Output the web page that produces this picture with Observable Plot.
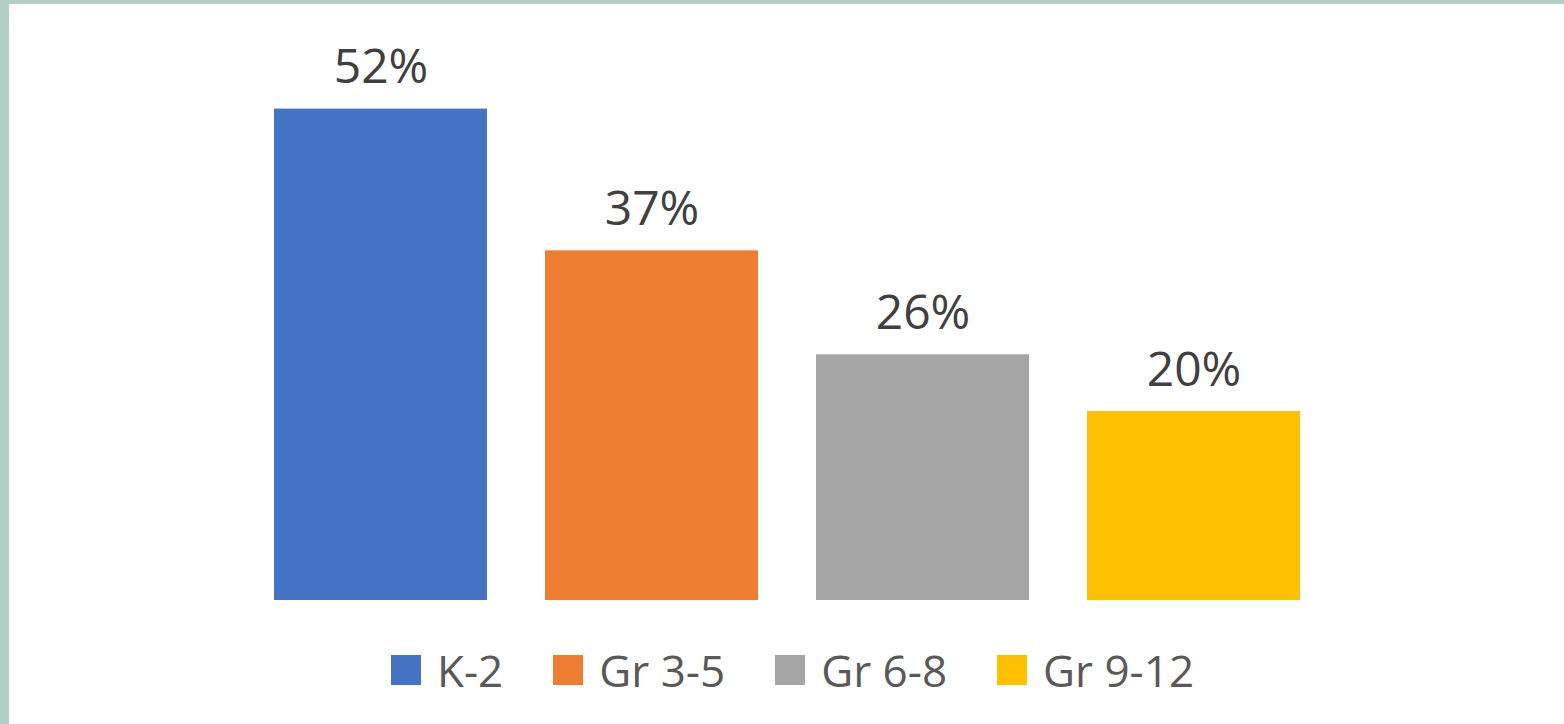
<!DOCTYPE html>
<html>
<head>
<meta charset="utf-8">
<script src="https://cdn.jsdelivr.net/npm/d3@7"></script>
<script src="https://cdn.jsdelivr.net/npm/@observablehq/plot@0.6"></script>
<style>
  html, body { margin: 0; padding: 0; background: #fff; width: 1564px; height: 724px; overflow: hidden; position: relative; }
  #chart { position: absolute; left: 0; top: 0; }
  .border-top { position: absolute; left: 0; top: 0; width: 1564px; height: 4px; background: #b2cfc5; }
  .border-left { position: absolute; left: 0; top: 0; width: 9px; height: 724px; background: #b2cfc5; }
  #legend { position: absolute; left: 391px; top: 640px; display: flex; align-items: center; gap: 50px;
            font-family: "Open Sans", sans-serif; font-size: 44px; color: #595959; }
  .item { display: flex; align-items: center; gap: 16px; }
  .sw { width: 30px; height: 30px; display: inline-block; }
</style>
</head>
<body>
<div id="chart"></div>
<div id="legend"></div>
<div class="border-top"></div>
<div class="border-left"></div>
<script>
const categories = ["K-2", "Gr 3-5", "Gr 6-8", "Gr 9-12"];
const values = [52, 37, 26, 20];
const colors = ["#4472c4", "#ed7d31", "#a5a5a5", "#ffc000"];

const data = categories.map((c, i) => ({category: c, value: values[i]}));

const chart = Plot.plot({
  width: 1564,
  height: 630,
  marginLeft: 272,
  marginRight: 262,
  marginTop: 33,
  marginBottom: 30,
  style: {background: "transparent", fontFamily: "Open Sans, sans-serif"},
  x: {domain: categories, paddingInner: 0.2123, paddingOuter: 0, axis: null},
  y: {domain: [0, 60], axis: null},
  color: {domain: categories, range: colors},
  marks: [
    Plot.barY(data, {x: "category", y: "value", fill: "category"}),
    Plot.text(data, {x: "category", y: "value", text: d => d.value + "%", lineAnchor: "bottom", dy: -26,
                     fontSize: 48, fill: "#404040"})
  ]
});
document.getElementById("chart").appendChild(chart);

const legend = document.getElementById("legend");
categories.forEach((c, i) => {
  const item = document.createElement("div");
  item.className = "item";
  const sw = document.createElement("span");
  sw.className = "sw";
  sw.style.background = colors[i];
  const label = document.createElement("span");
  label.textContent = c;
  item.appendChild(sw);
  item.appendChild(label);
  legend.appendChild(item);
});
</script>
</body>
</html>
